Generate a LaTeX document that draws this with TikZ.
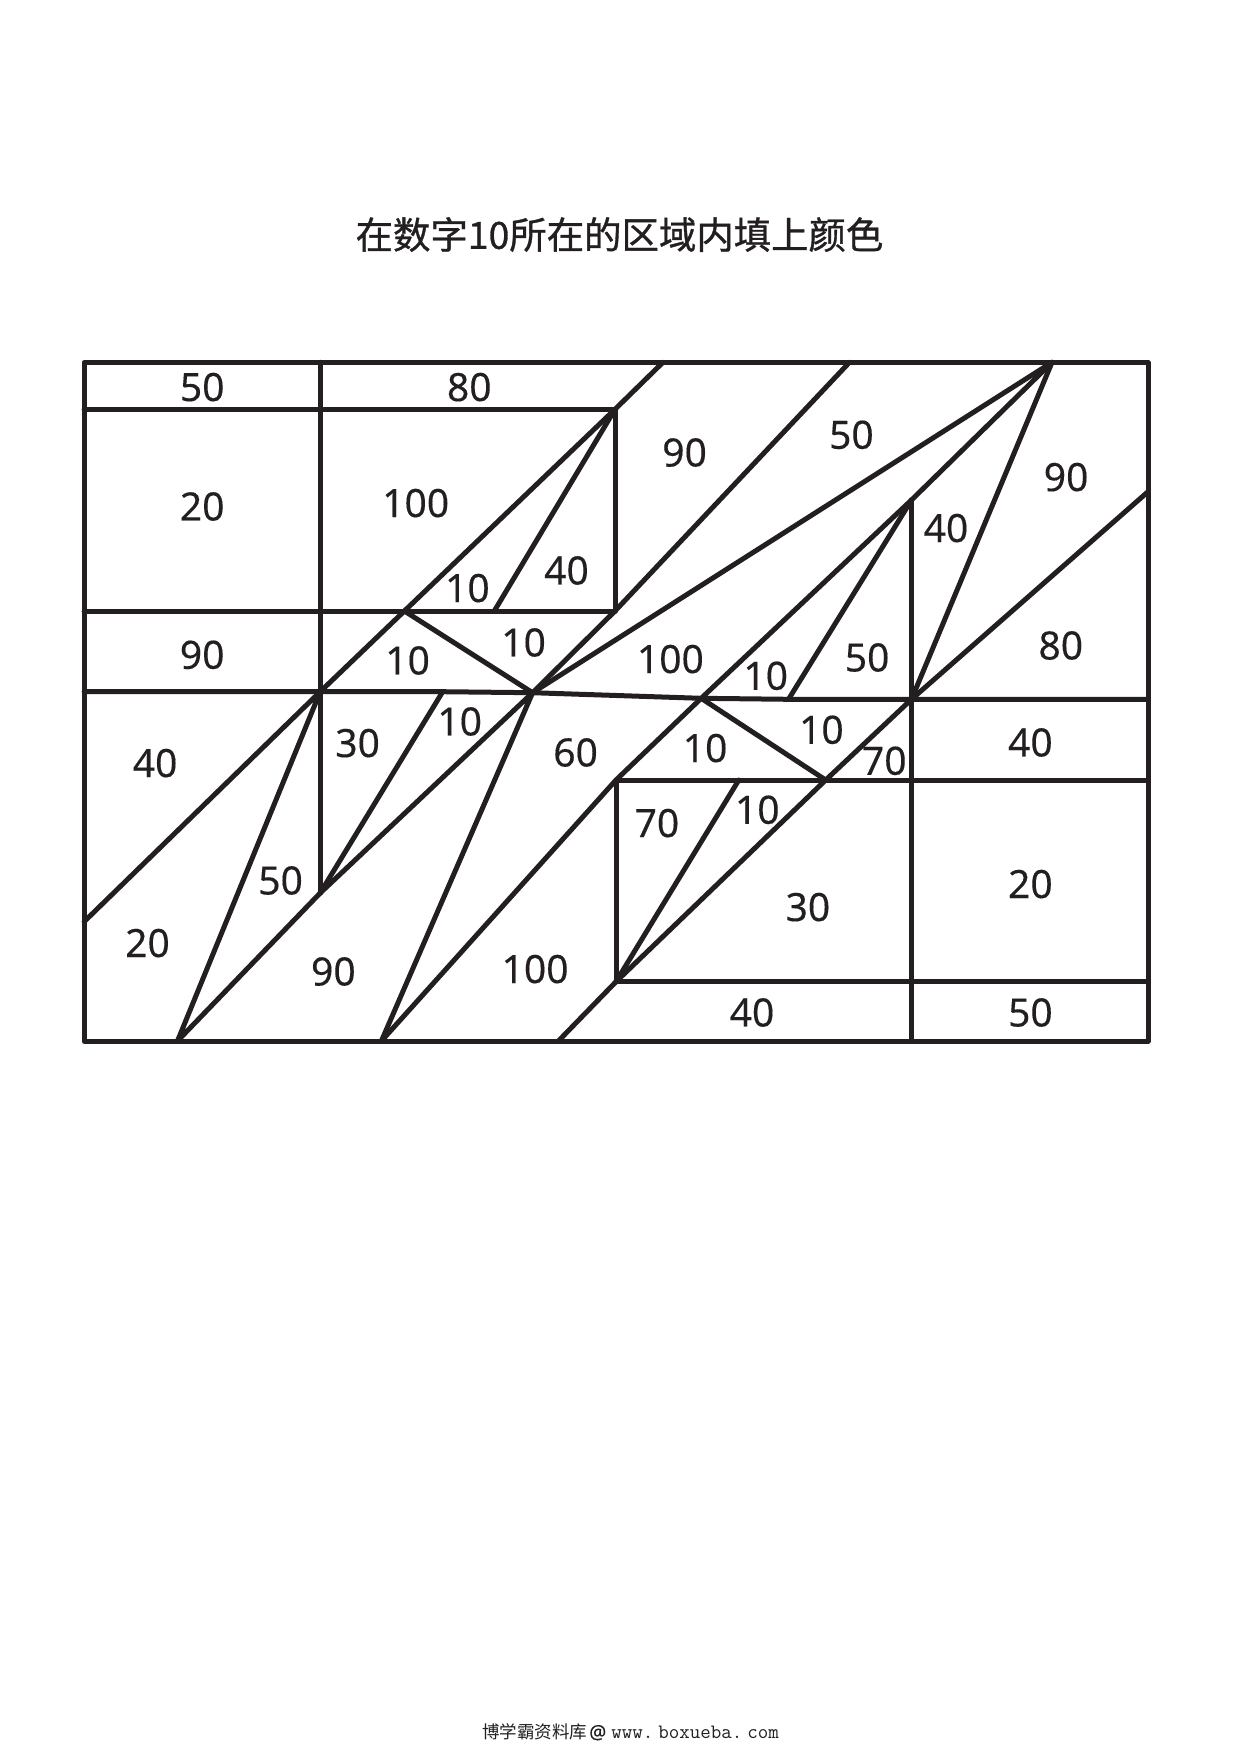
\documentclass[tikz,border=0pt]{standalone}
\usepackage{fontspec}
\setmainfont{Noto Sans}[FakeBold=0.25]
\newfontfamily\cjk{Noto Sans CJK SC}
\newfontfamily\cjkbold{Noto Sans CJK SC}[FakeBold=0.9]
\definecolor{ink}{HTML}{231F20}
\tikzset{
  x=1pt,y=-1pt,
  edge/.style={draw=ink,line width=5pt,line join=round,line cap=round},
  num/.style={text=ink,inner sep=0pt,font=\fontsize{39}{39}\selectfont},
}
\begin{document}
\begin{tikzpicture}
\useasboundingbox[fill=white] (0,0) rectangle (1240,1754);
\node[inner sep=0pt,text=ink,font=\cjkbold\fontsize{37.4}{37.4}\selectfont] (title) at (619.5,234.5) {在数字10所在的区域内填上颜色};
\node[inner sep=0pt,text=ink,anchor=west] (foot) at (482,1732) {{\cjk\fontsize{17.5}{17.5}\selectfont 博学霸资料库}{\fontsize{19}{19}\selectfont\hspace{2pt}@}\hspace{5pt}{\ttfamily\addfontfeatures{FakeBold=1}\fontsize{20.4}{19}\selectfont www.\hspace{5pt}boxueba.\hspace{5pt}com}};
% vertices
\coordinate (TL) at (84.1,362.3); \coordinate (TR) at (1148,362.3);
\coordinate (BL) at (84.1,1041); \coordinate (BR) at (1148,1041);
\coordinate (A) at (615,409.3); \coordinate (Atop) at (663,362.3);
\coordinate (B) at (404.4,611); \coordinate (C) at (615,611);
\coordinate (D) at (320.2,691.7); \coordinate (E) at (532.6,692.7);
\coordinate (F) at (494.3,611);
\coordinate (G) at (442.7,691.7); \coordinate (H) at (701.2,698.3);
\coordinate (I) at (788.5,699.3); \coordinate (J) at (911.5,699.3);
\coordinate (Ap) at (1052,362.3); \coordinate (K) at (911.5,500);
\coordinate (L) at (849.5,362.3); \coordinate (M) at (1148,491.7);
\coordinate (N) at (616,780); \coordinate (O) at (825.7,780);
\coordinate (P) at (616,981.7); \coordinate (Q) at (738.8,780);
\coordinate (R) at (381.4,1041); \coordinate (S) at (558.4,1041);
\coordinate (T) at (177.5,1041); \coordinate (U) at (320.2,893);
\coordinate (V) at (84.1,921.7);
% frame and rules
\draw[edge] (TL) rectangle (BR);
\draw[edge] (320.2,362.3) -- (320.2,611) -- (D) -- (U);
\draw[edge] (84.1,409.3) -- (A) -- (C) -- (84.1,611);
\draw[edge] (84.1,691.7) -- (D) -- (G) -- (E) -- (H) -- (I) -- (J) -- (1148,699.3);
\draw[edge] (N) -- (1148,780);
\draw[edge] (P) -- (1148,981.7);
\draw[edge] (N) -- (P);
\draw[edge] (K) -- (911.5,1041);
% diagonals
\draw[edge] (Atop) -- (A) -- (B) -- (D);
\draw[edge] (A) -- (F);
\draw[edge] (B) -- (E);
\draw[edge] (L) -- (C) -- (E);
\draw[edge] (Ap) -- (E);
\draw[edge] (Ap) -- (K) -- (H) -- (N) -- (R);
\draw[edge] (K) -- (I);
\draw[edge] (Ap) -- (J);
\draw[edge] (M) -- (J) -- (O) -- (P) -- (S);
\draw[edge] (P) -- (Q);
\draw[edge] (H) -- (O);
\draw[edge] (V) -- (D) -- (T) -- (U) -- (E) -- (R);
\draw[edge] (U) -- (G);
% labels
\begin{scope}[shift={(0.6,-0.2)}]
\foreach \n/\x/\y/\t in {
 a/201.6/387.3/50, b/468.7/387.3/80, c/201.6/506.7/20, d/415.1/503.3/100,
 e/466.8/588.3/10, f/565.9/570.7/40, g/201.6/655/90, h/407/660.7/10,
 i/523/642.7/10, j/684/452.7/90, k/850.8/435/50, l/1065.5/477.3/90,
 m/945.4/528.3/40, n/669.8/659.3/100, o/765.1/676/10, p/866.5/657.7/50,
 q/1060.2/645.7/80, r/459.1/721.7/10, s/357/743.3/30, t/154.5/763.3/40,
 u/575/752.7/60, v/280/880.7/50, w/146.9/943.3/20, y/332.8/971.7/90,
 z/534.5/969.3/100, aa/704.5/748.3/10, ab/820.8/730/10, ac/883.7/761/70,
 ad/1029.8/742.7/40, ae/656.3/823.3/70, af/756.7/810/10, ag/807.3/907.3/30,
 ah/1029.8/884.3/20, ai/751.4/1012.7/40, aj/1029.8/1012.7/50}
 \node[num] (\n) at (\x,\y) {\t};
\end{scope}
\end{tikzpicture}
\end{document}
